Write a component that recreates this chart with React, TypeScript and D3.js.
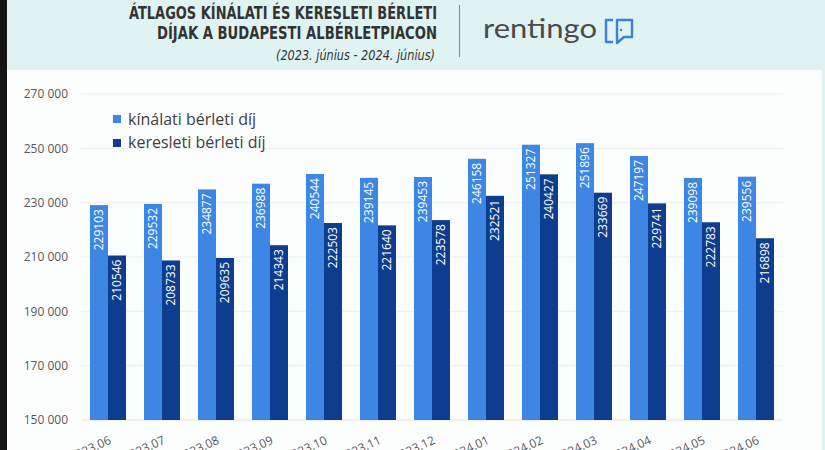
import React from "react";
import * as d3 from "d3";

const categories = ["2023.06","2023.07","2023.08","2023.09","2023.10","2023.11","2023.12","2024.01","2024.02","2024.03","2024.04","2024.05","2024.06"];
const kinalati = [229103,229532,234877,236988,240544,239145,239453,246158,251327,251896,247197,239098,239556];
const keresleti = [210546,208733,209635,214343,222503,221640,223578,232521,240427,233669,229741,222783,216898];
const seriesNames = ["kínálati bérleti díj","keresleti bérleti díj"];
const yTicks = [150000,170000,190000,210000,230000,250000,270000];
const titleLines = ["ÁTLAGOS KÍNÁLATI ÉS KERESLETI BÉRLETI","DÍJAK A BUDAPESTI ALBÉRLETPIACON"];
const subtitle = "(2023. június - 2024. június)";
const brand = "rentingo";

const W = 825, H = 450;
const LIGHT = "#3d86e3";
const DARK = "#0e3c8f";
const FONT = "'Open Sans', 'Noto Sans', sans-serif";
const NARROW = "'Liberation Sans Narrow', 'DejaVu Sans Condensed', 'Open Sans', sans-serif";

export default function App() {
  const x = d3.scaleBand<string>().domain(categories).range([81, 783]).paddingInner(1/3).paddingOuter(1/6);
  const y = d3.scaleLinear().domain([150000, 270000]).range([420, 94]);
  const inner = d3.scaleBand<number>().domain([0, 1]).range([0, x.bandwidth()]);
  const fmt = (v: number) => d3.format(",")(v).replace(/,/g, " ");
  const series = [kinalati, keresleti];
  const colors = [LIGHT, DARK];

  return (
    <div style={{ position: "absolute", left: 0, top: 0 }}>
      <svg width={W} height={H} style={{ display: "block" }}>
        <rect x={0} y={0} width={W} height={H} fill="#fcfdfd" />
        <rect x={0} y={0} width={W} height={70} fill="#dff3f3" />
        <rect x={822} y={0} width={3} height={H} fill="#dff3f3" />
        <rect x={0} y={0} width={7} height={H} fill="#141414" />

        {/* title */}
        <text x={437} y={19} textAnchor="end" fontFamily={NARROW} fontWeight="bold" fontSize={17} fill="#333" textLength={308} lengthAdjust="spacingAndGlyphs">{titleLines[0]}</text>
        <text x={437} y={39} textAnchor="end" fontFamily={NARROW} fontWeight="bold" fontSize={17} fill="#333" textLength={280} lengthAdjust="spacingAndGlyphs">{titleLines[1]}</text>
        <text x={435} y={60} textAnchor="end" fontFamily={NARROW} fontStyle="italic" fontSize={14} fill="#333" textLength={159} lengthAdjust="spacingAndGlyphs">{subtitle}</text>
        <line x1={459.5} x2={459.5} y1={5} y2={57} stroke="#888" strokeWidth={1} />
        <text x={483} y={38} fontFamily="'Lato', 'Open Sans', sans-serif" fontSize={26} fill="#4a4a4a" textLength={114} lengthAdjust="spacingAndGlyphs">{brand}</text>
        <g fill="none" stroke="#3b7fe3" strokeWidth={2.4} strokeLinejoin="round">
          <path d="M613,20 L606,20 L606,42 L613,42" />
          <path d="M617,20 L632,20 L632,37 L624,37 L617,43 Z" />
        </g>
        <circle cx={621} cy={30} r={1.2} fill="#3b7fe3" />

        {/* grid + y axis */}
        {yTicks.map(t => (
          <g key={t}>
            <line x1={81} x2={783} y1={y(t)} y2={y(t)} stroke={t === 150000 ? "#dfe4e6" : "#ebeff1"} strokeWidth={1} />
            <text x={68} y={y(t)} dy="0.35em" textAnchor="end" fontFamily={FONT} fontSize={12} fill="#595959">{fmt(t)}</text>
          </g>
        ))}

        {/* bars */}
        {series.map((s, si) => (
          <g key={si}>
            {s.map((v, i) => {
              const bx = (x(categories[i]) as number) + (inner(si) as number);
              const bw = inner.bandwidth();
              const top = y(v);
              const cx = bx + bw / 2;
              return (
                <g key={i}>
                  <rect x={bx} y={top} width={bw} height={y(150000) - top} fill={colors[si]} />
                  <text transform={`translate(${cx},${top + 4}) rotate(-90)`} dy="0.35em" textAnchor="end" fontFamily={FONT} fontSize={12} fill="#ffffff">{v}</text>
                </g>
              );
            })}
          </g>
        ))}

        {/* x labels */}
        {categories.map(c => {
          const cx = (x(c) as number) + x.bandwidth() / 2;
          return (
            <text key={c} transform={`translate(${cx + 4},${443}) rotate(-25)`} textAnchor="end" fontFamily={FONT} fontSize={12} fill="#595959">{c}</text>
          );
        })}

        {/* legend */}
        {seriesNames.map((n, i) => (
          <g key={n}>
            <rect x={113} y={115 + i * 24} width={8} height={8} fill={colors[i]} />
            <text x={128} y={125 + i * 23} fontFamily={FONT} fontSize={16} fill="#404040">{n}</text>
          </g>
        ))}
      </svg>
    </div>
  );
}
